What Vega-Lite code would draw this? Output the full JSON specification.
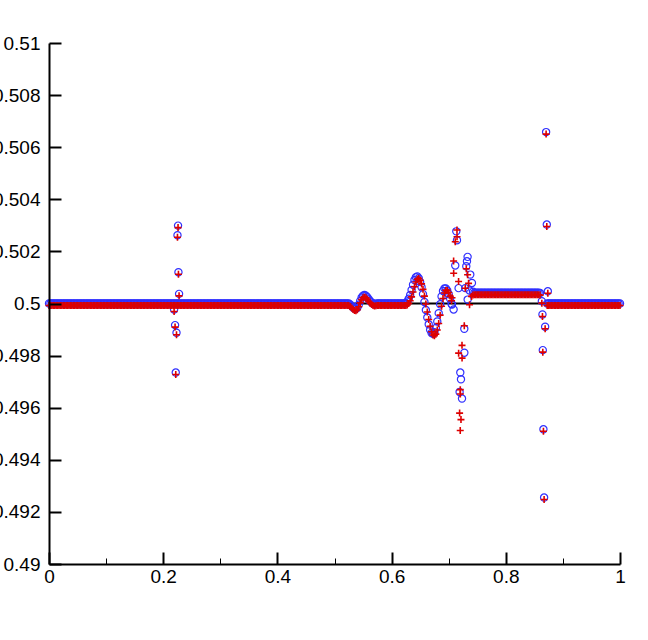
{
  "$schema": "https://vega.github.io/schema/vega-lite/v6.json",
  "width": 571,
  "height": 521,
  "autosize": {"type": "none"},
  "padding": {"left": 49, "top": 43, "right": 28, "bottom": 76},
  "background": "white",
  "config": {"view": {"stroke": null}},
  "datasets": {
    "ref": [{"v": 0.5}],
    "sol": [
{"x":0,"b":0.5,"r":0.5},{"x":0.0025,"b":0.5,"r":0.5},{"x":0.005,"b":0.5,"r":0.5},{"x":0.0075,"b":0.5,"r":0.5},{"x":0.01,"b":0.5,"r":0.5},{"x":0.0125,"b":0.5,"r":0.5},{"x":0.015,"b":0.5,"r":0.5},{"x":0.0175,"b":0.5,"r":0.5},{"x":0.02,"b":0.5,"r":0.5},{"x":0.0225,"b":0.5,"r":0.5},
{"x":0.025,"b":0.5,"r":0.5},{"x":0.0275,"b":0.5,"r":0.5},{"x":0.03,"b":0.5,"r":0.5},{"x":0.0325,"b":0.5,"r":0.5},{"x":0.035,"b":0.5,"r":0.5},{"x":0.0375,"b":0.5,"r":0.5},{"x":0.04,"b":0.5,"r":0.5},{"x":0.0425,"b":0.5,"r":0.5},{"x":0.045,"b":0.5,"r":0.5},{"x":0.0475,"b":0.5,"r":0.5},
{"x":0.05,"b":0.5,"r":0.5},{"x":0.0525,"b":0.5,"r":0.5},{"x":0.055,"b":0.5,"r":0.5},{"x":0.0575,"b":0.5,"r":0.5},{"x":0.06,"b":0.5,"r":0.5},{"x":0.0625,"b":0.5,"r":0.5},{"x":0.065,"b":0.5,"r":0.5},{"x":0.0675,"b":0.5,"r":0.5},{"x":0.07,"b":0.5,"r":0.5},{"x":0.0725,"b":0.5,"r":0.5},
{"x":0.075,"b":0.5,"r":0.5},{"x":0.0775,"b":0.5,"r":0.5},{"x":0.08,"b":0.5,"r":0.5},{"x":0.0825,"b":0.5,"r":0.5},{"x":0.085,"b":0.5,"r":0.5},{"x":0.0875,"b":0.5,"r":0.5},{"x":0.09,"b":0.5,"r":0.5},{"x":0.0925,"b":0.5,"r":0.5},{"x":0.095,"b":0.5,"r":0.5},{"x":0.0975,"b":0.5,"r":0.5},
{"x":0.1,"b":0.5,"r":0.5},{"x":0.1025,"b":0.5,"r":0.5},{"x":0.105,"b":0.5,"r":0.5},{"x":0.1075,"b":0.5,"r":0.5},{"x":0.11,"b":0.5,"r":0.5},{"x":0.1125,"b":0.5,"r":0.5},{"x":0.115,"b":0.5,"r":0.5},{"x":0.1175,"b":0.5,"r":0.5},{"x":0.12,"b":0.5,"r":0.5},{"x":0.1225,"b":0.5,"r":0.5},
{"x":0.125,"b":0.5,"r":0.5},{"x":0.1275,"b":0.5,"r":0.5},{"x":0.13,"b":0.5,"r":0.5},{"x":0.1325,"b":0.5,"r":0.5},{"x":0.135,"b":0.5,"r":0.5},{"x":0.1375,"b":0.5,"r":0.5},{"x":0.14,"b":0.5,"r":0.5},{"x":0.1425,"b":0.5,"r":0.5},{"x":0.145,"b":0.5,"r":0.5},{"x":0.1475,"b":0.5,"r":0.5},
{"x":0.15,"b":0.5,"r":0.5},{"x":0.1525,"b":0.5,"r":0.5},{"x":0.155,"b":0.5,"r":0.5},{"x":0.1575,"b":0.5,"r":0.5},{"x":0.16,"b":0.5,"r":0.5},{"x":0.1625,"b":0.5,"r":0.5},{"x":0.165,"b":0.5,"r":0.5},{"x":0.1675,"b":0.5,"r":0.5},{"x":0.17,"b":0.5,"r":0.5},{"x":0.1725,"b":0.5,"r":0.5},
{"x":0.175,"b":0.5,"r":0.5},{"x":0.1775,"b":0.5,"r":0.5},{"x":0.18,"b":0.5,"r":0.5},{"x":0.1825,"b":0.5,"r":0.5},{"x":0.185,"b":0.5,"r":0.5},{"x":0.1875,"b":0.5,"r":0.5},{"x":0.19,"b":0.5,"r":0.5},{"x":0.1925,"b":0.5,"r":0.5},{"x":0.195,"b":0.5,"r":0.5},{"x":0.1975,"b":0.5,"r":0.5},
{"x":0.2,"b":0.5,"r":0.5},{"x":0.2025,"b":0.5,"r":0.5},{"x":0.205,"b":0.5,"r":0.5},{"x":0.2075,"b":0.5,"r":0.5},{"x":0.21,"b":0.5,"r":0.5},{"x":0.2125,"b":0.5,"r":0.5},{"x":0.215,"b":0.5,"r":0.5},{"x":0.2175,"b":0.5,"r":0.5},{"x":0.22,"b":0.5,"r":0.5},{"x":0.2225,"b":0.5,"r":0.5},
{"x":0.225,"b":0.5,"r":0.5},{"x":0.2275,"b":0.5,"r":0.5},{"x":0.23,"b":0.5,"r":0.5},{"x":0.2325,"b":0.5,"r":0.5},{"x":0.235,"b":0.5,"r":0.5},{"x":0.2375,"b":0.5,"r":0.5},{"x":0.24,"b":0.5,"r":0.5},{"x":0.2425,"b":0.5,"r":0.5},{"x":0.245,"b":0.5,"r":0.5},{"x":0.2475,"b":0.5,"r":0.5},
{"x":0.25,"b":0.5,"r":0.5},{"x":0.2525,"b":0.5,"r":0.5},{"x":0.255,"b":0.5,"r":0.5},{"x":0.2575,"b":0.5,"r":0.5},{"x":0.26,"b":0.5,"r":0.5},{"x":0.2625,"b":0.5,"r":0.5},{"x":0.265,"b":0.5,"r":0.5},{"x":0.2675,"b":0.5,"r":0.5},{"x":0.27,"b":0.5,"r":0.5},{"x":0.2725,"b":0.5,"r":0.5},
{"x":0.275,"b":0.5,"r":0.5},{"x":0.2775,"b":0.5,"r":0.5},{"x":0.28,"b":0.5,"r":0.5},{"x":0.2825,"b":0.5,"r":0.5},{"x":0.285,"b":0.5,"r":0.5},{"x":0.2875,"b":0.5,"r":0.5},{"x":0.29,"b":0.5,"r":0.5},{"x":0.2925,"b":0.5,"r":0.5},{"x":0.295,"b":0.5,"r":0.5},{"x":0.2975,"b":0.5,"r":0.5},
{"x":0.3,"b":0.5,"r":0.5},{"x":0.3025,"b":0.5,"r":0.5},{"x":0.305,"b":0.5,"r":0.5},{"x":0.3075,"b":0.5,"r":0.5},{"x":0.31,"b":0.5,"r":0.5},{"x":0.3125,"b":0.5,"r":0.5},{"x":0.315,"b":0.5,"r":0.5},{"x":0.3175,"b":0.5,"r":0.5},{"x":0.32,"b":0.5,"r":0.5},{"x":0.3225,"b":0.5,"r":0.5},
{"x":0.325,"b":0.5,"r":0.5},{"x":0.3275,"b":0.5,"r":0.5},{"x":0.33,"b":0.5,"r":0.5},{"x":0.3325,"b":0.5,"r":0.5},{"x":0.335,"b":0.5,"r":0.5},{"x":0.3375,"b":0.5,"r":0.5},{"x":0.34,"b":0.5,"r":0.5},{"x":0.3425,"b":0.5,"r":0.5},{"x":0.345,"b":0.5,"r":0.5},{"x":0.3475,"b":0.5,"r":0.5},
{"x":0.35,"b":0.5,"r":0.5},{"x":0.3525,"b":0.5,"r":0.5},{"x":0.355,"b":0.5,"r":0.5},{"x":0.3575,"b":0.5,"r":0.5},{"x":0.36,"b":0.5,"r":0.5},{"x":0.3625,"b":0.5,"r":0.5},{"x":0.365,"b":0.5,"r":0.5},{"x":0.3675,"b":0.5,"r":0.5},{"x":0.37,"b":0.5,"r":0.5},{"x":0.3725,"b":0.5,"r":0.5},
{"x":0.375,"b":0.5,"r":0.5},{"x":0.3775,"b":0.5,"r":0.5},{"x":0.38,"b":0.5,"r":0.5},{"x":0.3825,"b":0.5,"r":0.5},{"x":0.385,"b":0.5,"r":0.5},{"x":0.3875,"b":0.5,"r":0.5},{"x":0.39,"b":0.5,"r":0.5},{"x":0.3925,"b":0.5,"r":0.5},{"x":0.395,"b":0.5,"r":0.5},{"x":0.3975,"b":0.5,"r":0.5},
{"x":0.4,"b":0.5,"r":0.5},{"x":0.4025,"b":0.5,"r":0.5},{"x":0.405,"b":0.5,"r":0.5},{"x":0.4075,"b":0.5,"r":0.5},{"x":0.41,"b":0.5,"r":0.5},{"x":0.4125,"b":0.5,"r":0.5},{"x":0.415,"b":0.5,"r":0.5},{"x":0.4175,"b":0.5,"r":0.5},{"x":0.42,"b":0.5,"r":0.5},{"x":0.4225,"b":0.5,"r":0.5},
{"x":0.425,"b":0.5,"r":0.5},{"x":0.4275,"b":0.5,"r":0.5},{"x":0.43,"b":0.5,"r":0.5},{"x":0.4325,"b":0.5,"r":0.5},{"x":0.435,"b":0.5,"r":0.5},{"x":0.4375,"b":0.5,"r":0.5},{"x":0.44,"b":0.5,"r":0.5},{"x":0.4425,"b":0.5,"r":0.5},{"x":0.445,"b":0.5,"r":0.5},{"x":0.4475,"b":0.5,"r":0.5},
{"x":0.45,"b":0.5,"r":0.5},{"x":0.4525,"b":0.5,"r":0.5},{"x":0.455,"b":0.5,"r":0.5},{"x":0.4575,"b":0.5,"r":0.5},{"x":0.46,"b":0.5,"r":0.5},{"x":0.4625,"b":0.5,"r":0.5},{"x":0.465,"b":0.5,"r":0.5},{"x":0.4675,"b":0.5,"r":0.5},{"x":0.47,"b":0.5,"r":0.5},{"x":0.4725,"b":0.5,"r":0.5},
{"x":0.475,"b":0.5,"r":0.5},{"x":0.4775,"b":0.5,"r":0.5},{"x":0.48,"b":0.5,"r":0.5},{"x":0.4825,"b":0.5,"r":0.5},{"x":0.485,"b":0.5,"r":0.5},{"x":0.4875,"b":0.5,"r":0.5},{"x":0.49,"b":0.5,"r":0.5},{"x":0.4925,"b":0.5,"r":0.5},{"x":0.495,"b":0.5,"r":0.5},{"x":0.4975,"b":0.5,"r":0.5},
{"x":0.5,"b":0.5,"r":0.5},{"x":0.5025,"b":0.5,"r":0.5},{"x":0.505,"b":0.5,"r":0.5},{"x":0.5075,"b":0.5,"r":0.5},{"x":0.51,"b":0.5,"r":0.5},{"x":0.5125,"b":0.5,"r":0.5},{"x":0.515,"b":0.5,"r":0.5},{"x":0.5175,"b":0.5,"r":0.5},{"x":0.52,"b":0.5,"r":0.5},{"x":0.5225,"b":0.5,"r":0.5},
{"x":0.2260,"b":0.50299,"r":0.50299},{"x":0.2250,"b":0.50262,"r":0.50262},{"x":0.2267,"b":0.50120,"r":0.50120},{"x":0.2278,"b":0.50037,"r":0.50037},{"x":0.2191,"b":0.49977,"r":0.49977},{"x":0.2208,"b":0.49917,"r":0.49917},{"x":0.2233,"b":0.49888,"r":0.49888},{"x":0.2220,"b":0.49735,"r":0.49735},
{"x":0.525,"b":0.5,"r":0.5},{"x":0.5275,"b":0.49996,"r":0.49996},{"x":0.53,"b":0.4999,"r":0.4999},{"x":0.5325,"b":0.49985,"r":0.49985},{"x":0.535,"b":0.49981,"r":0.49981},{"x":0.5375,"b":0.4998,"r":0.4998},{"x":0.54,"b":0.49984,"r":0.49984},{"x":0.5425,"b":0.49995,"r":0.49995},{"x":0.545,"b":0.5001,"r":0.5001},{"x":0.5475,"b":0.50023,"r":0.50023},
{"x":0.55,"b":0.5003,"r":0.5003},{"x":0.5525,"b":0.50033,"r":0.50033},{"x":0.555,"b":0.5003,"r":0.5003},{"x":0.5575,"b":0.50024,"r":0.50024},{"x":0.56,"b":0.50016,"r":0.50016},{"x":0.5625,"b":0.50009,"r":0.50009},{"x":0.565,"b":0.50004,"r":0.50004},{"x":0.5675,"b":0.5,"r":0.5},{"x":0.57,"b":0.49998,"r":0.49998},{"x":0.5725,"b":0.49999,"r":0.49999},
{"x":0.575,"b":0.5,"r":0.5},{"x":0.5775,"b":0.5,"r":0.5},{"x":0.58,"b":0.5,"r":0.5},{"x":0.5825,"b":0.5,"r":0.5},{"x":0.585,"b":0.5,"r":0.5},{"x":0.5875,"b":0.5,"r":0.5},{"x":0.59,"b":0.5,"r":0.5},{"x":0.5925,"b":0.5,"r":0.5},{"x":0.595,"b":0.5,"r":0.5},{"x":0.5975,"b":0.5,"r":0.5},
{"x":0.6,"b":0.5,"r":0.5},{"x":0.6025,"b":0.5,"r":0.5},{"x":0.605,"b":0.5,"r":0.5},{"x":0.6075,"b":0.5,"r":0.5},{"x":0.61,"b":0.5,"r":0.5},{"x":0.6125,"b":0.5,"r":0.5},{"x":0.615,"b":0.5,"r":0.5},{"x":0.6175,"b":0.5,"r":0.5},{"x":0.62,"b":0.5,"r":0.5},{"x":0.6225,"b":0.5,"r":0.5},
{"x":0.625,"b":0.50002,"r":0.5},{"x":0.6275,"b":0.50008,"r":0.50002},{"x":0.63,"b":0.50018,"r":0.50008},{"x":0.6325,"b":0.50033,"r":0.50018},{"x":0.635,"b":0.50052,"r":0.50033},{"x":0.6375,"b":0.50072,"r":0.50052},{"x":0.64,"b":0.5009,"r":0.50072},{"x":0.6425,"b":0.50101,"r":0.5009},{"x":0.645,"b":0.50104,"r":0.50101},{"x":0.6475,"b":0.50097,"r":0.50104},
{"x":0.65,"b":0.50083,"r":0.50097},{"x":0.6525,"b":0.50062,"r":0.50083},{"x":0.655,"b":0.50036,"r":0.50062},{"x":0.6575,"b":0.50006,"r":0.50036},{"x":0.66,"b":0.49975,"r":0.50006},{"x":0.6625,"b":0.49946,"r":0.49975},{"x":0.665,"b":0.4992,"r":0.49946},{"x":0.6675,"b":0.49899,"r":0.4992},{"x":0.67,"b":0.49887,"r":0.49899},{"x":0.6725,"b":0.49884,"r":0.49887},
{"x":0.675,"b":0.4989,"r":0.49884},{"x":0.6775,"b":0.49906,"r":0.4989},{"x":0.68,"b":0.49931,"r":0.49906},{"x":0.6825,"b":0.49963,"r":0.49931},{"x":0.685,"b":0.49997,"r":0.49963},{"x":0.6875,"b":0.50027,"r":0.49997},{"x":0.69,"b":0.50048,"r":0.50027},{"x":0.6925,"b":0.50058,"r":0.50048},{"x":0.695,"b":0.50058,"r":0.50058},{"x":0.6975,"b":0.5005,"r":0.50058},
{"x":0.7,"b":0.50036,"r":0.5005},{"x":0.7025,"b":0.50018,"r":0.50036},{"x":0.705,"b":0.49998,"r":0.50018},
{"x":0.7058,"b":0.49996,"r":0.5003},{"x":0.7086,"b":0.49977,"r":0.50171},{"x":0.7133,"b":0.50277,"r":null},{"x":0.7145,"b":0.50243,"r":0.5029},{"x":0.7115,"b":0.50146,"r":0.50245},{"x":0.7331,"b":0.50179,"r":0.50118},{"x":0.732,"b":0.50162,"r":null},{"x":0.7308,"b":0.50143,"r":0.50141},{"x":0.7378,"b":0.50111,"r":null},{"x":0.7407,"b":0.50079,"r":null},
{"x":0.729,"b":0.50059,"r":0.50066},{"x":0.7173,"b":0.50059,"r":0.50092},{"x":0.7273,"b":0.49903,"r":0.49922},{"x":0.7274,"b":0.49811,"r":null},{"x":0.7203,"b":0.49735,"r":0.49677},{"x":0.7215,"b":0.49709,"r":0.49562},{"x":0.7191,"b":0.4966,"r":0.49587},{"x":0.7233,"b":0.49635,"r":0.49847},{"x":0.7332,"b":0.50015,"r":null},{"x":0.7365,"b":0.5005,"r":0.50003},
{"x":0.7425,"b":0.50045,"r":0.5004},{"x":0.7146,"b":null,"r":0.50264},{"x":0.7087,"b":null,"r":0.50124},{"x":0.7348,"b":null,"r":0.50085},{"x":0.7174,"b":null,"r":0.49817},{"x":0.7234,"b":null,"r":0.49798},{"x":0.7204,"b":null,"r":0.4966},{"x":0.7202,"b":null,"r":0.4952},{"x":0.74,"b":null,"r":0.50035},
{"x":0.745,"b":0.50041,"r":0.50041},{"x":0.7475,"b":0.50041,"r":0.50041},{"x":0.75,"b":0.50041,"r":0.50041},{"x":0.7525,"b":0.50041,"r":0.50041},{"x":0.755,"b":0.50041,"r":0.50041},{"x":0.7575,"b":0.50041,"r":0.50041},{"x":0.76,"b":0.50041,"r":0.50041},{"x":0.7625,"b":0.50041,"r":0.50041},{"x":0.765,"b":0.50041,"r":0.50041},{"x":0.7675,"b":0.50041,"r":0.50041},
{"x":0.77,"b":0.50041,"r":0.50041},{"x":0.7725,"b":0.50041,"r":0.50041},{"x":0.775,"b":0.50041,"r":0.50041},{"x":0.7775,"b":0.50041,"r":0.50041},{"x":0.78,"b":0.50041,"r":0.50041},{"x":0.7825,"b":0.50041,"r":0.50041},{"x":0.785,"b":0.50041,"r":0.50041},{"x":0.7875,"b":0.50041,"r":0.50041},{"x":0.79,"b":0.50041,"r":0.50041},{"x":0.7925,"b":0.50041,"r":0.50041},
{"x":0.795,"b":0.50041,"r":0.50041},{"x":0.7975,"b":0.50041,"r":0.50041},{"x":0.8,"b":0.50041,"r":0.50041},{"x":0.8025,"b":0.50041,"r":0.50041},{"x":0.805,"b":0.50041,"r":0.50041},{"x":0.8075,"b":0.50041,"r":0.50041},{"x":0.81,"b":0.50041,"r":0.50041},{"x":0.8125,"b":0.50041,"r":0.50041},{"x":0.815,"b":0.50041,"r":0.50041},{"x":0.8175,"b":0.50041,"r":0.50041},
{"x":0.82,"b":0.50041,"r":0.50041},{"x":0.8225,"b":0.50041,"r":0.50041},{"x":0.825,"b":0.50041,"r":0.50041},{"x":0.8275,"b":0.50041,"r":0.50041},{"x":0.83,"b":0.50041,"r":0.50041},{"x":0.8325,"b":0.50041,"r":0.50041},{"x":0.835,"b":0.50041,"r":0.50041},{"x":0.8375,"b":0.50041,"r":0.50041},{"x":0.84,"b":0.50041,"r":0.50041},{"x":0.8425,"b":0.50041,"r":0.50041},
{"x":0.845,"b":0.50041,"r":0.50041},{"x":0.8475,"b":0.50041,"r":0.50041},{"x":0.85,"b":0.50041,"r":0.50041},{"x":0.8525,"b":0.50041,"r":0.50041},{"x":0.855,"b":0.50041,"r":0.50041},{"x":0.8575,"b":0.50041,"r":0.50041},{"x":0.86,"b":0.5004,"r":0.5004},
{"x":0.8706,"b":0.50658,"r":0.50658},{"x":0.8718,"b":0.50303,"r":0.50303},{"x":0.8736,"b":0.50047,"r":0.50047},{"x":0.8631,"b":0.50009,"r":0.50009},{"x":0.8642,"b":0.49958,"r":0.49958},{"x":0.8689,"b":0.49911,"r":0.49911},{"x":0.8648,"b":0.49821,"r":0.49821},{"x":0.8659,"b":0.49517,"r":0.49517},{"x":0.8671,"b":0.49255,"r":0.49255},
{"x":0.8725,"b":0.5,"r":0.5},{"x":0.875,"b":0.5,"r":0.5},{"x":0.8775,"b":0.5,"r":0.5},{"x":0.88,"b":0.5,"r":0.5},{"x":0.8825,"b":0.5,"r":0.5},{"x":0.885,"b":0.5,"r":0.5},{"x":0.8875,"b":0.5,"r":0.5},{"x":0.89,"b":0.5,"r":0.5},{"x":0.8925,"b":0.5,"r":0.5},{"x":0.895,"b":0.5,"r":0.5},
{"x":0.8975,"b":0.5,"r":0.5},{"x":0.9,"b":0.5,"r":0.5},{"x":0.9025,"b":0.5,"r":0.5},{"x":0.905,"b":0.5,"r":0.5},{"x":0.9075,"b":0.5,"r":0.5},{"x":0.91,"b":0.5,"r":0.5},{"x":0.9125,"b":0.5,"r":0.5},{"x":0.915,"b":0.5,"r":0.5},{"x":0.9175,"b":0.5,"r":0.5},{"x":0.92,"b":0.5,"r":0.5},
{"x":0.9225,"b":0.5,"r":0.5},{"x":0.925,"b":0.5,"r":0.5},{"x":0.9275,"b":0.5,"r":0.5},{"x":0.93,"b":0.5,"r":0.5},{"x":0.9325,"b":0.5,"r":0.5},{"x":0.935,"b":0.5,"r":0.5},{"x":0.9375,"b":0.5,"r":0.5},{"x":0.94,"b":0.5,"r":0.5},{"x":0.9425,"b":0.5,"r":0.5},{"x":0.945,"b":0.5,"r":0.5},
{"x":0.9475,"b":0.5,"r":0.5},{"x":0.95,"b":0.5,"r":0.5},{"x":0.9525,"b":0.5,"r":0.5},{"x":0.955,"b":0.5,"r":0.5},{"x":0.9575,"b":0.5,"r":0.5},{"x":0.96,"b":0.5,"r":0.5},{"x":0.9625,"b":0.5,"r":0.5},{"x":0.965,"b":0.5,"r":0.5},{"x":0.9675,"b":0.5,"r":0.5},{"x":0.97,"b":0.5,"r":0.5},
{"x":0.9725,"b":0.5,"r":0.5},{"x":0.975,"b":0.5,"r":0.5},{"x":0.9775,"b":0.5,"r":0.5},{"x":0.98,"b":0.5,"r":0.5},{"x":0.9825,"b":0.5,"r":0.5},{"x":0.985,"b":0.5,"r":0.5},{"x":0.9875,"b":0.5,"r":0.5},{"x":0.99,"b":0.5,"r":0.5},{"x":0.9925,"b":0.5,"r":0.5},{"x":0.995,"b":0.5,"r":0.5},
{"x":0.9975,"b":0.5,"r":0.5},{"x":1,"b":0.5,"r":0.5}
    ]
  },
  "layer": [
    {
      "data": {"name": "ref"},
      "mark": {"type": "rule", "color": "black", "strokeWidth": 2},
      "encoding": {
        "y": {"field": "v", "type": "quantitative", "title": null, "scale": {"domain": [0.49, 0.51], "nice": false, "zero": false}}
      }
    },
    {
      "data": {"name": "sol"},
      "transform": [{"filter": "isValid(datum.b)"}],
      "mark": {"type": "point", "shape": "circle", "filled": false, "stroke": "#3030ff", "strokeWidth": 1.2, "size": 52, "opacity": 1},
      "encoding": {
        "x": {
          "field": "x", "type": "quantitative", "title": null,
          "scale": {"domain": [0, 1], "nice": false, "zero": false},
          "axis": {
            "values": [0,0.05,0.1,0.15,0.2,0.25,0.3,0.35,0.4,0.45,0.5,0.55,0.6,0.65,0.7,0.75,0.8,0.85,0.9,0.95,1],
            "labelExpr": "abs(datum.value*5-round(datum.value*5))<1e-6 ? format(datum.value,'~g') : ''",
            "tickSize": {"condition": {"test": "abs(datum.value*5-round(datum.value*5))<1e-6", "value": -12}, "value": -6},
            "tickWidth": {"condition": {"test": "abs(datum.value*5-round(datum.value*5))<1e-6", "value": 2}, "value": 1},
            "tickColor": "black",
            "domainColor": "black",
            "domainWidth": 2,
            "grid": false,
            "labelFont": "Liberation Sans",
            "labelFontSize": 19,
            "labelColor": "black",
            "labelPadding": 15,
            "labelOverlap": false,
            "labelFlush": false,
            "labelBound": false,
            "zindex": 1
          }
        },
        "y": {
          "field": "b", "type": "quantitative", "title": null,
          "scale": {"domain": [0.49, 0.51], "nice": false, "zero": false},
          "axis": {
            "values": [0.49,0.4905,0.491,0.4915,0.492,0.4925,0.493,0.4935,0.494,0.4945,0.495,0.4955,0.496,0.4965,0.497,0.4975,0.498,0.4985,0.499,0.4995,0.5,0.5005,0.501,0.5015,0.502,0.5025,0.503,0.5035,0.504,0.5045,0.505,0.5055,0.506,0.5065,0.507,0.5075,0.508,0.5085,0.509,0.5095,0.51],
            "labelExpr": "abs(datum.value*500-round(datum.value*500))<1e-6 ? format(datum.value,'~g') : ''",
            "tickSize": {"condition": {"test": "abs(datum.value*500-round(datum.value*500))<1e-6", "value": -12}, "value": -6},
            "tickWidth": {"condition": {"test": "abs(datum.value*500-round(datum.value*500))<1e-6", "value": 2}, "value": 1},
            "tickColor": "black",
            "domainColor": "black",
            "domainWidth": 2,
            "grid": false,
            "labelFont": "Liberation Sans",
            "labelFontSize": 19,
            "labelColor": "black",
            "labelPadding": 21,
            "labelOverlap": false,
            "labelFlush": false,
            "labelBound": false,
            "zindex": 1
          }
        }
      }
    },
    {
      "data": {"name": "sol"},
      "transform": [{"filter": "isValid(datum.r)"}],
      "mark": {"type": "point", "shape": "M-1,0H1M0,-1V1", "filled": false, "stroke": "#dd0000", "strokeWidth": 1.6, "size": 49, "opacity": 1, "yOffset": 2},
      "encoding": {
        "x": {"field": "x", "type": "quantitative", "title": null, "scale": {"domain": [0, 1], "nice": false, "zero": false}},
        "y": {"field": "r", "type": "quantitative", "title": null, "scale": {"domain": [0.49, 0.51], "nice": false, "zero": false}}
      }
    }
  ]
}
